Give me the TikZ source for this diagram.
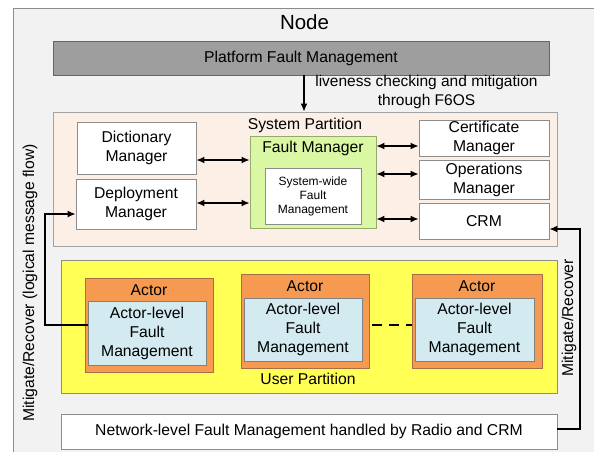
\documentclass[tikz,border=0pt]{standalone}
\usepackage{fontspec}
\setmainfont{Liberation Sans}
\usetikzlibrary{arrows.meta}
\definecolor{nodebg}{RGB}{242,242,242}
\definecolor{edgegray}{RGB}{140,140,140}
\definecolor{platgray}{RGB}{158,158,158}
\definecolor{peach}{RGB}{252,239,230}
\definecolor{fmgreen}{RGB}{218,247,163}
\definecolor{fmedge}{RGB}{150,170,110}
\definecolor{upyellow}{RGB}{255,255,85}
\definecolor{actororange}{RGB}{246,154,82}
\definecolor{actoredge}{RGB}{170,110,70}
\definecolor{lightblue}{RGB}{210,234,240}
\tikzset{
  box/.style={draw=edgegray, line width=0.8pt, fill=white, align=center,
    inner sep=0pt, font=\fontsize{15.7}{19}\selectfont},
  lbl/.style={align=center, inner sep=0pt, font=\fontsize{15.7}{19}\selectfont},
  conn/.style={line width=1.4pt, black},
  dbl/.style={conn, {Latex[length=8pt,width=7pt]}-{Latex[length=8pt,width=7pt]}},
  arr/.style={conn, -{Latex[length=8pt,width=7pt]}},
}
\begin{document}
\begin{tikzpicture}[x=1pt,y=-1pt]
\useasboundingbox (0,0) rectangle (594,451);

% outer node frame
\draw[draw=edgegray, line width=0.8pt, fill=nodebg] (13,8) rectangle (610,470);
\node[lbl, font=\fontsize{20.5}{24}\selectfont] (title) at (304.5,22) {Node};

% platform layer
\node[box, fill=platgray, draw=gray!80!black, minimum width=496pt, minimum height=34pt] (plat) at (301,58) {Platform Fault Management};

% system partition
\node[box, fill=peach, draw=edgegray!80, minimum width=504pt, minimum height=134pt] (sysp) at (305,179) {};
\node[lbl] (syspl) at (305,125) {System Partition};

\node[box, minimum width=119pt, minimum height=52pt] (dict) at (136.5,148) {Dictionary\\Manager};
\node[box, minimum width=120pt, minimum height=50pt] (dep) at (136,204) {Deployment\\Manager};

\node[box, fill=fmgreen, draw=fmedge, minimum width=126pt, minimum height=92pt] (fm) at (313,182) {};
\node[lbl] (fml) at (313,148) {Fault Manager};
\node[box, minimum width=96pt, minimum height=56pt, font=\fontsize{12}{14}\selectfont] (swfm) at (313,196) {System-wide\\Fault\\Management};

\node[box, minimum width=130pt, minimum height=36pt] (cert) at (484,138) {Certificate\\Manager};
\node[box, minimum width=130pt, minimum height=39pt] (ops) at (484,179.5) {Operations\\Manager};
\node[box, minimum width=130pt, minimum height=36pt] (crm) at (484,221) {CRM};

% user partition
\node[box, fill=upyellow, minimum width=496pt, minimum height=133pt] (user) at (309,326.5) {};
\node[lbl] (userl) at (308,379) {User Partition};

\node[box, fill=actororange, draw=actoredge, minimum width=128pt, minimum height=94pt] (a1) at (149,325) {};
\node[lbl] (a1l) at (149,290) {Actor};
\node[box, fill=lightblue, draw=gray, minimum width=118pt, minimum height=64pt] (a1in) at (147,333) {Actor-level\\Fault\\Management};

\node[box, fill=actororange, draw=actoredge, minimum width=128pt, minimum height=94pt] (a2) at (305,321) {};
\node[lbl] (a2l) at (305,286) {Actor};
\node[box, fill=lightblue, draw=gray, minimum width=118pt, minimum height=63pt] (a2in) at (303,329.5) {Actor-level\\Fault\\Management};

\node[box, fill=actororange, draw=actoredge, minimum width=130pt, minimum height=94pt] (a3) at (477,321) {};
\node[lbl] (a3l) at (477,286) {Actor};
\node[box, fill=lightblue, draw=gray, minimum width=119pt, minimum height=63pt] (a3in) at (474.5,329.5) {Actor-level\\Fault\\Management};

% network level
\node[box, minimum width=496pt, minimum height=35pt] (net) at (309,431.5) {Network-level Fault Management handled by Radio and CRM};

% platform supervision
\draw[arr] (plat.south -| 304,0) -- (sysp.north -| 304,0);
\node[lbl, font=\fontsize{15.5}{19}\selectfont] (live) at (426.5,91.5) {liveness checking and mitigation\\through F6OS};

% fault manager links
\draw[dbl] (dict.east |- 0,160) -- (fm.west |- 0,160);
\draw[dbl] (dep.east |- 0,203) -- (fm.west |- 0,203);
\draw[dbl] (fm.east |- 0,146) -- (cert.west |- 0,146);
\draw[dbl] (fm.east |- 0,174) -- (ops.west |- 0,174);
\draw[dbl] (fm.east |- 0,219) -- (crm.west |- 0,219);

% actor peers
\draw[conn, dash pattern=on 10pt off 7pt, dash phase=-3pt] (a2.east |- 0,325) -- (a3.west |- 0,325);

% recovery paths
\draw[arr] (a1in.west |- 0,325) -- (45,325) -- (45,214) -- (dep.west |- 0,214);
\draw[arr] (net.east |- 0,429) -- (580,429) -- (580,229) -- (crm.east |- 0,229);

\node[lbl] [rotate=90] (leftl) at (30,283) {Mitigate/Recover (logical message flow)};
\node[lbl, rotate=90] (rightl) at (569,318) {Mitigate/Recover};
\end{tikzpicture}
\end{document}
